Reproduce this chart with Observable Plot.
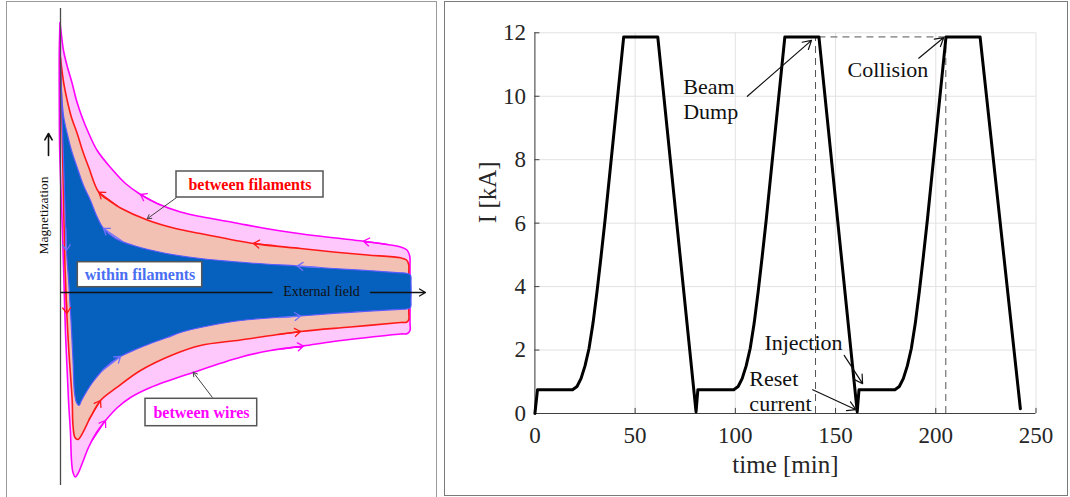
<!DOCTYPE html>
<html><head><meta charset="utf-8">
<script src="https://cdn.jsdelivr.net/npm/d3@7"></script>
<script src="https://cdn.jsdelivr.net/npm/@observablehq/plot@0.6"></script>
<style>
html,body{margin:0;padding:0;background:#fff;width:1070px;height:497px;overflow:hidden;}
#left{position:absolute;left:6px;top:1px;width:429px;height:510px;border:1px solid #9a9a9a;}
#right{position:absolute;left:444px;top:1px;width:622px;height:493px;border:1px solid #7a7a7a;}
svg{display:block;overflow:visible}
</style></head><body>
<div id="left"></div><div id="right"></div>
<script>
// ---------- Right panel data: magnet current cycle ----------
const timeMin = [0, 1.3, 18.8, 21, 23, 25, 27, 29, 31, 33, 35, 44.3, 61.3,
  80.4, 81.3, 99.2, 101.4, 103.4, 105.4, 107.4, 109.4, 111.4, 113.4, 115.4, 124.7, 141.7,
  160.8, 161.7, 179.6, 181.8, 183.8, 185.8, 187.8, 189.8, 191.8, 193.8, 195.8, 205.1, 222.1, 242.2];
const currentKA = [0, 0.75, 0.75, 0.85, 1.1, 1.5, 2.05, 2.85, 3.85, 4.95, 6.1, 11.87, 11.87,
  0.05, 0.75, 0.75, 0.85, 1.1, 1.5, 2.05, 2.85, 3.85, 4.95, 6.1, 11.87, 11.87,
  0.05, 0.75, 0.75, 0.85, 1.1, 1.5, 2.05, 2.85, 3.85, 4.95, 6.1, 11.87, 11.87, 0.15];
const xTicks = [0, 50, 100, 150, 200, 250];
const yTicks = [0, 2, 4, 6, 8, 10, 12];
const dashTimes = [140, 205];
const dashLevel = 11.87;
const dashFrom = 141.7, dashTo = 205;

const noteText = ["Beam\nDump", "Collision", "Injection", "Reset\ncurrent"];
const noteTime = [74, 156, 114.5, 107];
const noteKA = [9.94, 10.87, 2.25, 0.72];
const noteArrowT1 = [106, 191.5, 154.3, 138.6];
const noteArrowI1 = [10.0, 11.2, 1.83, 0.75];
const noteArrowT2 = [138, 204, 163.5, 160.2];
const noteArrowI2 = [11.76, 11.85, 0.94, 0.12];

// ---------- Left panel data: magnetization loops (H = field, M = magnetization) ----------
const magentaH = [-0.5,1,3,6.5,11.7,16,21.7,28.3,36.7,50,65,80,96.7,120,140,173,206.7,240,273,303,326.7,340,346.5,349.3,349.5,
  349.5,349.5,347,340,307,273,243,210,180,133.3,90,70,57,45,36,28,21.7,17.5,15,12.5,11,10,8,6.5,5,3.5,2,-0.8,-1.2,-1.2,-0.5];
const magentaM = [270,257,242,227,209,192,175,159,142,125,109,98,89,80.5,76,70,63.7,58.7,54.7,51.3,48,45.5,42.5,36,28,
  -30,-38,-41,-41.5,-45,-49,-53.5,-58,-64.7,-79.7,-95,-105,-115,-128,-140,-155,-171,-181,-184.5,-180,-168,-141,-108,-74.7,-41,9,59,142,192,242,270];
const redH = [0,1.5,3.3,6.7,11,16.7,22,28.3,38.3,50,60,86.7,115,140,193,240,273,307,340,346,348.2,348.3,
  348.3,348.3,346.5,340,290,240,180,140,113,80,56.7,40,30,21.7,17.5,14.5,12.5,11.7,8.3,6.3,4.5,3,1.5,0.5,0];
const redM = [235,222,209,192,175,159,142,125,100.3,91,84.5,72.5,64,59,49,44,40.5,37.5,34.7,32.5,28,20,
  -20,-27,-29.5,-30,-34.5,-39,-47.5,-53,-62,-78,-94.7,-108,-124.7,-141.3,-147,-145,-133,-108,-58,-21,25.3,92,172,212,235];
const blueH = [0,1,3,6.7,11,16.7,23,30,36,43,55,73,106,140,190,236.7,273,307,340,346,350,350.5,
  350.5,350,346,340,290,240,180,140,120,106.7,90,75,60,50,40,32,26.7,21,18.5,16,14,12.5,10.5,8.3,6,3.3,1,0];
const blueM = [234,202,177,159,142,125,107,92,77,64,54,47,39,34,29.5,26.5,24,22,19.7,19.2,17.5,10,
  -8,-15,-16.5,-16.8,-19.8,-23.5,-28,-35,-40,-45,-51,-57,-64,-70.5,-80,-90,-98,-108,-113,-110,-100,-68,-28,9,42,125,192,234];

// small direction arrows along the loops (tail -> tip, both on the curve)
const dirTailH = [99, 326.7, 32, 221, 57, 215, 28.5, 218, 5.5, 61.5, 258.7, 42, 218, 5.3];
const dirTailM = [87.8, 48, -147.5, -56.5, 86.5, 46.8, -127, -42.1, 1, 51.5, 25, -78, -25.2, 64];
const dirTipH = [80, 303, 45, 243, 38.3, 193, 40, 240, 6.4, 43, 236.7, 60, 240, 6];
const dirTipM = [98, 51.3, -128, -53.5, 100.3, 49, -108, -39, -21, 64, 26.5, -64, -23.5, 42];
const dirLoop = ["wires","wires","wires","wires","fil","fil","fil","fil","fil","within","within","within","within","within"];

// labelled boxes
const boxLabel = ["between filaments", "within filaments", "between wires"];
const boxH1 = [116, 17.3, 85], boxH2 = [263, 141.7, 196.7];
const boxM1 = [95, 5.3, -133.7], boxM2 = [121, 30.3, -106.3];
const boxTextH = [189.5, 79.5, 141], boxTextM = [108, 17.8, -120];
const boxKind = ["fil", "within", "wires"];
const ptrH1 = [115.7, 151.7], ptrM1 = [94.7, -104.7], ptrH2 = [86.7, 132.7], ptrM2 = [73.7, -79.7];

const axisSegH1 = [0], axisSegH2 = [212];
const axisArrowH1 = [310], axisArrowH2 = [365];
const fieldLabel = {text: "External field", h: 261, m: 1};
const magLabel = {text: "Magnetization", h: -17.3, m: 77};
const magArrow = {h: -12, m1: 137, m2: 159};
const vAxis = {m1: -193, m2: 284};

// ---------- build tables ----------
const profile = timeMin.map((t, i) => ({t, I: currentKA[i]}));
const notes = noteText.map((s, i) => ({s, t: noteTime[i], I: noteKA[i],
  t1: noteArrowT1[i], i1: noteArrowI1[i], t2: noteArrowT2[i], i2: noteArrowI2[i]}));
const loop = (H, M) => H.map((h, i) => ({h, m: M[i]}));
const dirs = dirTipH.map((h, i) => ({h1: dirTailH[i], m1: dirTailM[i], h2: h, m2: dirTipM[i], k: dirLoop[i]}));
const boxes = boxLabel.map((s, i) => ({s, h1: boxH1[i], h2: boxH2[i], m1: boxM1[i], m2: boxM2[i], th: boxTextH[i], tm: boxTextM[i], k: boxKind[i]}));
const ptrs = ptrH1.map((h, i) => ({h1: h, m1: ptrM1[i], h2: ptrH2[i], m2: ptrM2[i]}));

const lineColor = {wires: "#ff00ff", fil: "#ff1a1a", within: "#7070ff"};
const textColor = {wires: "#ff00ff", fil: "#ff0000", within: "#4a6ef2"};
const serif = "'Liberation Serif', 'Times New Roman', serif";

const left = Plot.plot({
  width: 429, height: 495,
  marginLeft: 53, marginRight: 26, marginTop: 6, marginBottom: 12,
  x: {domain: [0, 350], axis: null},
  y: {domain: [-193, 284], axis: null},
  style: {fontFamily: serif, background: "transparent", overflow: "visible"},
  marks: [
    Plot.line(loop(magentaH, magentaM), {x: "h", y: "m", fill: "#ffc8fd", stroke: "#ff00ff", strokeWidth: 1.6, curve: "catmull-rom"}),
    Plot.line(loop(redH, redM), {x: "h", y: "m", fill: "#f3c1b4", stroke: "#ff1a1a", strokeWidth: 1.6, curve: "catmull-rom"}),
    Plot.line(loop(blueH, blueM), {x: "h", y: "m", fill: "#0560be", stroke: "#5a5aff", strokeWidth: 1.2, curve: "catmull-rom"}),
    Plot.arrow(dirs, {x1: "h1", y1: "m1", x2: "h2", y2: "m2", stroke: d => lineColor[d.k], strokeWidth: 1.3, headLength: 8, headAngle: 70}),
    Plot.ruleX([0], {y1: vAxis.m1, y2: vAxis.m2, stroke: "#4a4a4a", strokeWidth: 1.3}),
    Plot.link(axisSegH1, {x1: d => d, x2: (d, i) => axisSegH2[i], y1: 0, y2: 0, stroke: "#111", strokeWidth: 1.3}),
    Plot.arrow(axisArrowH1, {x1: d => d, x2: (d, i) => axisArrowH2[i], y1: 0, y2: 0, stroke: "#111", strokeWidth: 1.3, headLength: 8}),
    Plot.text([fieldLabel], {x: "h", y: "m", text: "text", fontSize: 14, fill: "#111"}),
    Plot.text([magLabel], {x: "h", y: "m", text: "text", fontSize: 13.5, rotate: -90, fill: "#111"}),
    Plot.arrow([magArrow], {x1: "h", x2: "h", y1: "m1", y2: "m2", stroke: "#111", strokeWidth: 1.6, headLength: 7}),
    Plot.rect(boxes, {x1: "h1", x2: "h2", y1: "m1", y2: "m2", fill: "white", stroke: "#555", strokeWidth: 1.5}),
    Plot.text(boxes, {x: "th", y: "tm", text: "s", fill: d => textColor[d.k], fontSize: 16, fontWeight: "bold"}),
    Plot.arrow(ptrs, {x1: "h1", y1: "m1", x2: "h2", y2: "m2", stroke: "#444", strokeWidth: 1, headLength: 7})
  ]
});
document.getElementById("left").appendChild(left);

const right = Plot.plot({
  width: 622, height: 493,
  marginLeft: 89.4, marginRight: 31.5, marginTop: 30.3, marginBottom: 82,
  x: {domain: [0, 250]},
  y: {domain: [0, 12]},
  style: {fontFamily: serif, fontSize: "23px", color: "#262626", background: "transparent", overflow: "visible"},
  marks: [
    Plot.gridX(xTicks, {stroke: "#e2e2e2", strokeOpacity: 1}),
    Plot.gridY(yTicks, {stroke: "#e2e2e2", strokeOpacity: 1}),
    Plot.ruleX(dashTimes, {y1: 0, y2: dashLevel, stroke: "#555", strokeDasharray: "7,5"}),
    Plot.ruleY([dashLevel], {x1: dashFrom, x2: dashTo, stroke: "#555", strokeDasharray: "7,5"}),
    Plot.ruleX([0], {y1: 0, y2: 12, stroke: "#404040"}),
    Plot.ruleY([0], {x1: 0, x2: 250, stroke: "#404040"}),
    Plot.ruleX(xTicks, {y1: 0, y2: 0.16, stroke: "#404040"}),
    Plot.ruleY(yTicks, {x1: 0, x2: 2.5, stroke: "#404040"}),
    Plot.line(profile, {x: "t", y: "I", stroke: "#000", strokeWidth: 3}),
    Plot.axisX(xTicks, {tickSize: 0, tickPadding: 13, label: null, fontSize: 23}),
    Plot.axisY(yTicks, {tickSize: 0, tickPadding: 9, label: null, fontSize: 23}),
    Plot.text(["time [min]"], {frameAnchor: "bottom", dy: 59, fontSize: 25, fill: "#262626"}),
    Plot.text(["I [kA]"], {frameAnchor: "left", dx: -47, rotate: -90, fontSize: 25, fill: "#262626"}),
    Plot.arrow(notes, {x1: "t1", y1: "i1", x2: "t2", y2: "i2", stroke: "#111", strokeWidth: 1.2, headLength: 12}),
    Plot.text(notes, {x: "t", y: "I", text: "s", textAnchor: "start", lineHeight: 1.15, fontSize: 22, fill: "#111"})
  ]
});
document.getElementById("right").appendChild(right);
</script></body></html>
